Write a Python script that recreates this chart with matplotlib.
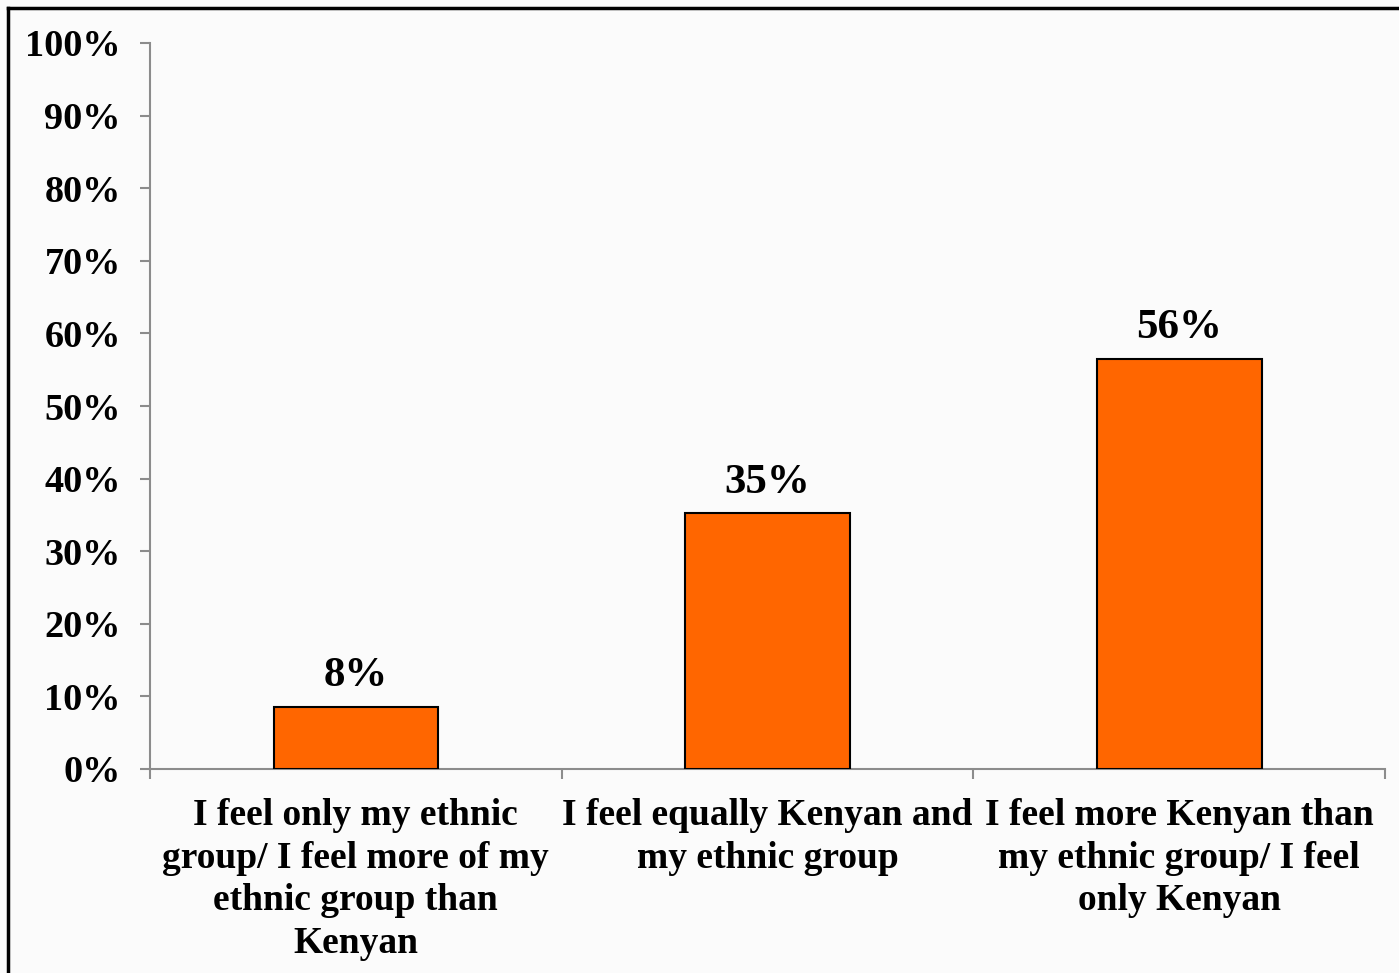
import numpy as np
import matplotlib.pyplot as plt
from matplotlib.lines import Line2D

categories = ['I feel only my ethnic\ngroup/ I feel more of my\nethnic group than\nKenyan',
              'I feel equally Kenyan and\nmy ethnic group',
              'I feel more Kenyan than\nmy ethnic group/ I feel\nonly Kenyan']
values = [8.6, 35.2, 56.5]
labels = ['8%', '35%', '56%']
yticks = np.arange(0, 101, 10)
ytick_labels = ['%d%%' % t for t in yticks]

plt.rcParams['font.family'] = ['Liberation Serif', 'DejaVu Serif']
plt.rcParams['font.weight'] = 'bold'

fig = plt.figure(figsize=(13.99, 9.73), dpi=100, facecolor='#fbfbfb')
ax = fig.add_axes([150 / 1399, 1 - 769 / 973, 1235 / 1399, 726 / 973])
ax.set_facecolor('none')

x = np.arange(len(categories))
bars = ax.bar(x, values, width=0.4, color='#FF6600', edgecolor='black', linewidth=1.5, zorder=3)
for xi, v, lab in zip(x, values, labels):
    ax.text(xi, v + 1.6, lab, ha='center', va='bottom', fontsize=31, fontweight='bold')

ax.set_xlim(-0.5, 2.5)
ax.set_ylim(0, 100)
ax.set_yticks(yticks)
ax.set_yticklabels(ytick_labels, fontsize=27.5, fontweight='bold')
ax.set_xticks(x)
ax.set_xticklabels(categories, fontsize=27, fontweight='bold', linespacing=1.28)
ax.tick_params(axis='x', length=0, pad=21)
ax.tick_params(axis='y', length=7, width=1.5, color='#8c8c8c', pad=14)

# boundary ticks on the category axis
ax.set_xticks([-0.5, 0.5, 1.5, 2.5], minor=True)
ax.tick_params(axis='x', which='minor', length=7, width=1.5, color='#8c8c8c')

for side in ['top', 'right']:
    ax.spines[side].set_visible(False)
for side in ['left', 'bottom']:
    ax.spines[side].set_color('#8c8c8c')
    ax.spines[side].set_linewidth(1.5)

# slide frame on left and top
fig.add_artist(Line2D([8 / 1399, 8 / 1399], [0, 1 - 8 / 973], color='black', lw=2.5, transform=fig.transFigure))
fig.add_artist(Line2D([8 / 1399, 1], [1 - 8 / 973, 1 - 8 / 973], color='black', lw=2.5, transform=fig.transFigure))

fig.savefig('out.png', dpi=100, facecolor=fig.get_facecolor())
